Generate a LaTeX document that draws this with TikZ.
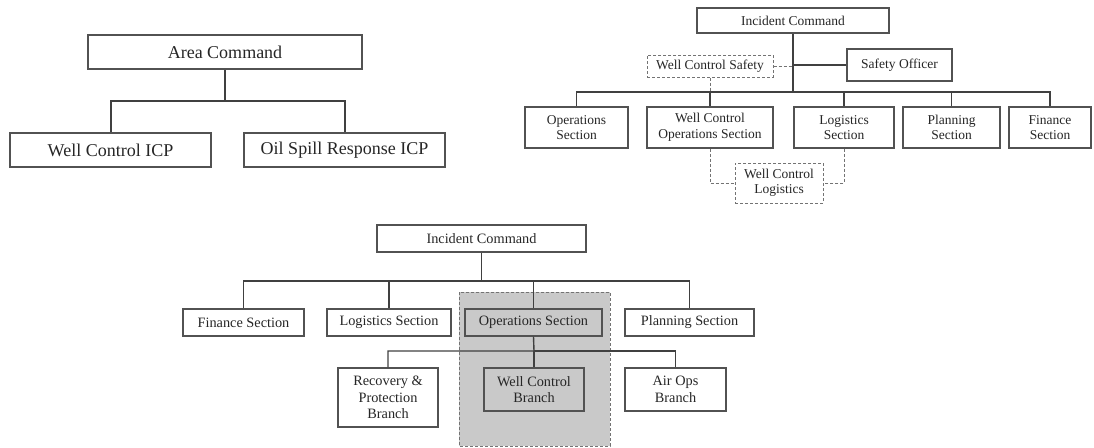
\documentclass[tikz,border=0pt]{standalone}
\usepackage{fontspec}
\setmainfont{Liberation Serif}
\begin{document}
\begin{tikzpicture}[x=1pt,y=-1pt,
  box/.style={draw=black!68, line width=1.3pt, fill=white, align=center, inner sep=0pt, text=black!85},
  dbox/.style={box, draw=black!55, densely dashed, line width=1pt},
  link/.style={draw=black!75, line width=1.4pt},
  dlink/.style={draw=black!55, densely dashed, line width=1pt},
  big/.style={font=\fontsize{18}{20}\selectfont},
  small/.style={font=\fontsize{13.5}{15.5}\selectfont},
  mid/.style={font=\fontsize{14.3}{16.5}\selectfont}]
\useasboundingbox (0,0) rectangle (1094,447);
\node[box, big, minimum width=274pt, minimum height=34pt] (area) at (225,52) {Area Command};
\node[box, big, minimum width=201pt, minimum height=34pt] (wcicp) at (110.5,150) {Well Control ICP};
\node[box, big, minimum width=201pt, minimum height=34pt] (osicp) at (344.5,150) {Oil Spill Response ICP};
\coordinate (aj) at (225,101);
\draw[link, line width=2pt] (area.south) -- (aj) -| (wcicp.north);
\draw[link, line width=2pt] (aj) -| (osicp.north);
\node[box, small, minimum width=192pt, minimum height=25pt] (ic1) at (793,20.5) {Incident Command};
\node[box, small, minimum width=105pt, minimum height=32pt] (so) at (899.5,65) {Safety Officer};
\node[dbox, small, minimum width=126pt, minimum height=22pt] (wcs) at (710,66) {Well Control Safety};
\node[box, small, minimum width=103pt, minimum height=41pt] (ops1) at (576.5,127.5) {Operations\\Section};
\node[box, small, minimum width=126pt, minimum height=41pt] (wcos) at (710,127.5) {Well Control\\Operations Section};
\node[box, small, minimum width=100pt, minimum height=41pt] (log1) at (844,127.5) {Logistics\\Section};
\node[box, small, minimum width=97pt, minimum height=41pt] (plan1) at (951.5,127.5) {Planning\\Section};
\node[box, small, minimum width=82pt, minimum height=41pt] (fin1) at (1050,127.5) {Finance\\Section};
\node[dbox, small, minimum width=88pt, minimum height=40pt] (wcl) at (779,183) {Well Control\\Logistics};
\coordinate (rj) at (793,92);
\draw[link, line width=2.4pt] (ic1.south) -- (rj);
\draw[link] (so.west) -- (so.west -| rj);
\draw[dlink] (wcs.east) -- (wcs.east -| rj);
\draw[link] (rj) -| (ops1.north);
\draw[link] (rj) -| (log1.north);
\draw[link] (rj) -| (plan1.north);
\draw[link] (rj) -| (fin1.north);
\draw[link, line width=2.2pt] (rj) -- (plan1.north |- rj);
\draw[link] (wcos.north |- rj) -- (wcos.north);
\draw[dlink] (wcs.south) -- (wcs.south |- rj);
\draw[dlink] (wcos.south) |- (wcl.west);
\draw[dlink] (log1.south) |- (wcl.east);
\draw[draw=black!55, densely dashed, line width=1pt, fill=black!21] (459,292) rectangle (610,446);
\node[box, mid, minimum width=209pt, minimum height=27pt] (ic2) at (481.5,238.5) {Incident Command};
\node[box, mid, minimum width=121pt, minimum height=27pt] (fin2) at (243.5,322.5) {Finance Section};
\node[box, mid, minimum width=124pt, minimum height=27pt] (log2) at (389,322.5) {Logistics Section};
\node[box, mid, minimum width=137pt, minimum height=27pt, fill=black!21] (ops2) at (533.5,322.5) {Operations Section};
\node[box, mid, minimum width=129pt, minimum height=27pt] (plan2) at (689.5,322.5) {Planning Section};
\node[box, mid, minimum width=100pt, minimum height=59pt] (rec) at (388,397.5) {Recovery \&\\Protection\\Branch};
\node[box, mid, minimum width=100pt, minimum height=43pt, fill=black!21] (wcb) at (534,389.5) {Well Control\\Branch};
\node[box, mid, minimum width=101pt, minimum height=43pt] (air) at (675.5,389.5) {Air Ops\\Branch};
\coordinate (bj) at (481.5,281);
\draw[link, line width=1.8pt] (ic2.south) -- (bj);
\draw[link] (bj) -| (fin2.north);
\draw[link] (bj) -| (log2.north);
\draw[link] (bj) -| (ops2.north);
\draw[link] (bj) -| (plan2.north);
\coordinate (oj) at (534,351);
\draw[link] (ops2.south) -- (oj) -| (rec.north);
\draw[link] (oj) -| (air.north);
\draw[link] (oj) -- (wcb.north);
\end{tikzpicture}
\end{document}
